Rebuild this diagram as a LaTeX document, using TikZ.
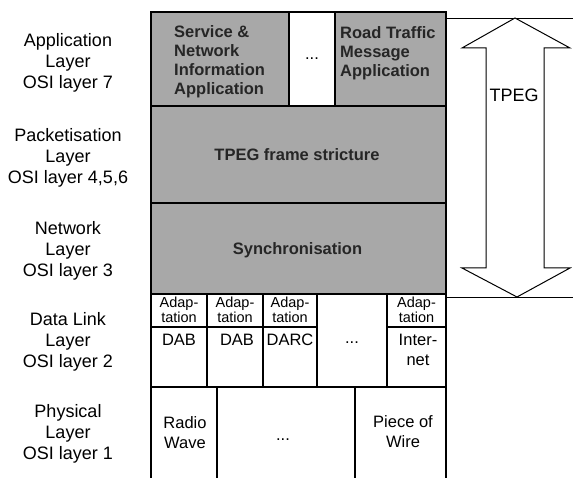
\documentclass[tikz,border=0pt]{standalone}
\usepackage{fontspec}
\setmainfont{Liberation Sans}
\begin{document}
\begin{tikzpicture}[x=1pt,y=-1pt,
  cell/.style={draw=black, line width=1.6pt, rectangle, inner sep=0pt, outer sep=0pt},
  tpegfill/.style={fill=black!34},
  oslabel/.style={align=center, inner sep=0pt, font=\fontsize{18}{21}\selectfont},
  celltext/.style={align=center, inner sep=0pt, font=\fontsize{16.5}{20}\selectfont},
  adaptext/.style={align=center, inner sep=0pt, font=\fontsize{14.5}{13.5}\selectfont},
  boldtext/.style={align=left, inner sep=0pt, text=black!85, font=\bfseries\fontsize{16.5}{19}\selectfont},
  thinline/.style={line width=0.9pt},
  bigarrow/.style={draw=black, line width=1pt, line join=miter, fill=white}]

\clip (0,0) rectangle (573,478);

% OSI layer names on the left
\node[oslabel] (l7) at (68,63)  {Application\\Layer\\OSI layer 7};
\node[oslabel] (l456) at (68,158) {Packetisation\\Layer\\OSI layer 4,5,6};
\node[oslabel] (l3) at (68,251) {Network\\Layer\\OSI layer 3};
\node[oslabel] (l2) at (68,342) {Data Link\\Layer\\OSI layer 2};
\node[oslabel] (l1) at (68,434) {Physical\\Layer\\OSI layer 1};

% application layer
\node[cell, tpegfill, minimum width=138pt, minimum height=94pt] (sna) at (220,59) {};
\node[cell, minimum width=46pt, minimum height=94pt] (appdots) at (312,59) {};
\node[cell, tpegfill, minimum width=111pt, minimum height=94pt] (rtm) at (390.5,59) {};
\node[boldtext, anchor=west] (snat) at (174,61.5) {Service \&\\Network\\Information\\Application};
\node[celltext] (appdotst) at (312,59) {...};
\node[boldtext, anchor=west] (rtmt) at (340,53) {Road Traffic\\Message\\Application};

% packetisation and network layers
\node[cell, tpegfill, minimum width=295pt, minimum height=97pt] (pkt) at (298.5,154.5) {};
\node[boldtext, align=center] (pktt) at (297,155) {TPEG frame stricture};
\node[cell, tpegfill, minimum width=295pt, minimum height=91pt] (net) at (298.5,248.5) {};
\node[boldtext, align=center] (nett) at (297.5,250) {Synchronisation};

% data link layer: adaptation row
\node[cell, minimum width=56pt, minimum height=33pt] (a1) at (179,310.5) {};
\node[cell, minimum width=56pt, minimum height=33pt] (a2) at (235,310.5) {};
\node[cell, minimum width=54pt, minimum height=33pt] (a3) at (290,310.5) {};
\node[cell, minimum width=59pt, minimum height=33pt] (a5) at (416.5,310.5) {};
\foreach \c in {a1,a2,a3,a5}
  \node[adaptext] (\c t) at ([yshift=0.5pt]\c.center) {Adap-\\tation};

% data link layer: bearers
\node[cell, minimum width=56pt, minimum height=60pt] (d1) at (179,357) {};
\node[cell, minimum width=56pt, minimum height=60pt] (d2) at (235,357) {};
\node[cell, minimum width=54pt, minimum height=60pt] (d3) at (290,357) {};
\node[cell, minimum width=70pt, minimum height=93pt] (ldots) at (352,340.5) {};
\node[cell, minimum width=59pt, minimum height=60pt] (d5) at (416.5,357) {};
\node[celltext] (d1t) at (179,340) {DAB};
\node[celltext] (d2t) at (237,340) {DAB};
\node[celltext] (d3t) at (290,340) {DARC};
\node[celltext] (ldotst) at (352,343) {...};
\node[celltext] (d5t) at (418,350) {Inter-\\net};

% physical layer (open at the bottom)
\node[cell, minimum width=66pt, minimum height=95pt] (p1) at (184,434.5) {};
\node[cell, minimum width=138pt, minimum height=95pt] (p2) at (286,434.5) {};
\node[cell, minimum width=91pt, minimum height=95pt] (p3) at (400.5,434.5) {};
\node[celltext] (p1t) at (185,433) {Radio\\Wave};
\node[celltext] (p2t) at (283,440) {...};
\node[celltext] (p3t) at (403,432) {Piece of\\Wire};

% TPEG span marker
\coordinate (tpegtop) at (573,18);
\coordinate (tpegbot) at (573,297);
\draw[thinline] (rtm.east |- tpegtop) -- (tpegtop);
\draw[thinline] (net.east |- tpegbot) -- (tpegbot);
\draw[bigarrow] (515,18) -- (570,48) -- (544,48) -- (544,268) -- (570,268)
  -- (517,297) -- (462,268) -- (486,268) -- (486,48) -- (462,48) -- cycle;
\node[oslabel] (tpeg) at (514,95) {TPEG};
\end{tikzpicture}
\end{document}
